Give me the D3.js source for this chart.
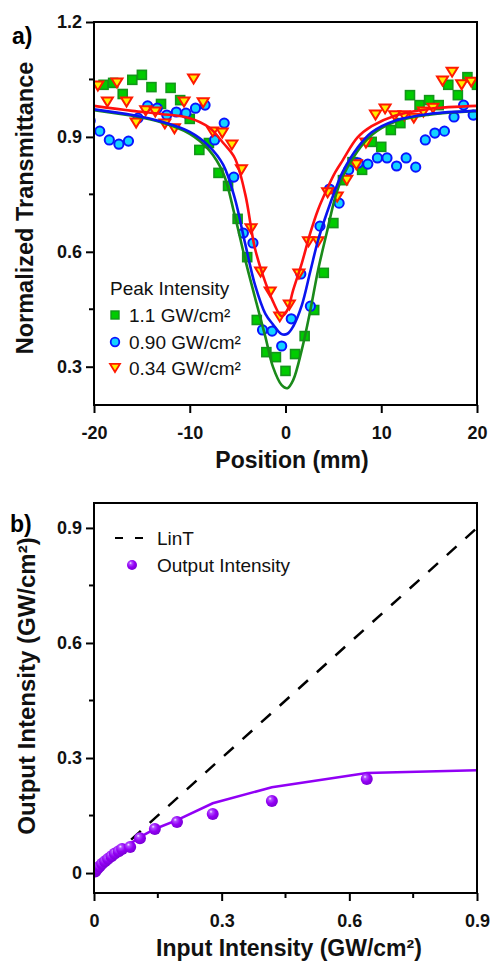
<!DOCTYPE html>
<html><head><meta charset="utf-8">
<script src="https://cdn.jsdelivr.net/npm/d3@7"></script>
<style>
html,body{margin:0;padding:0;background:#fff;}
svg{display:block;font-family:"Liberation Sans",Arial,Helvetica,sans-serif;}
</style></head>
<body>
<script>
// ---------- Panel a data ----------
const aXTicks = [-20, -10, 0, 10, 20];
const aXTickLabels = ["-20", "-10", "0", "10", "20"];
const aYTicks = [0.3, 0.6, 0.9, 1.2];
const aYTickLabels = ["0.3", "0.6", "0.9", "1.2"];
const aYMinor = [0.45, 0.75, 1.05];
const seriesNames = ["1.1 GW/cm²", "0.90 GW/cm²", "0.34 GW/cm²"];

const greenX = [-19,-18,-17,-16,-15,-14,-13,-12,-11,-10,-9,-8,-7,-6,-5,-4,-3,-2,-1,0,1,2,3,4,5,6,7,8,9,10,11,12,13,14,15,16,17,18,19,20];
const greenY = [1.036,1.041,1.012,1.049,1.062,1.030,0.986,1.028,0.996,0.947,0.866,0.884,0.806,0.772,0.686,0.586,0.422,0.338,0.325,0.289,0.333,0.380,0.448,0.545,0.675,0.787,0.834,0.814,0.887,0.874,0.918,0.936,1.009,0.983,0.996,0.983,1.036,1.009,1.056,1.036];

const blueX = [-20.4,-19.4,-18.4,-17.4,-16.4,-15.4,-14.4,-13.4,-12.4,-11.4,-10.4,-9.4,-8.4,-7.4,-6.4,-5.4,-4.4,-3.4,-2.4,-1.4,-0.4,0.6,1.6,2.6,3.6,4.6,5.6,6.6,7.6,8.6,9.6,10.6,11.6,12.6,13.6,14.6,15.6,16.6,17.6,18.6,19.6];
const blueY = [0.942,0.915,0.892,0.881,0.889,0.949,0.981,0.975,0.957,0.965,0.962,0.975,0.983,0.892,0.936,0.795,0.649,0.623,0.396,0.393,0.354,0.425,0.542,0.458,0.667,0.764,0.727,0.814,0.832,0.829,0.845,0.845,0.824,0.845,0.821,0.892,0.910,0.915,0.952,0.983,0.957];

const redX = [-19.6,-18.6,-17.6,-16.6,-15.6,-14.6,-13.6,-12.6,-11.6,-10.6,-9.6,-8.6,-7.6,-6.6,-5.6,-4.6,-3.6,-2.6,-1.6,-0.6,0.4,1.4,2.4,3.4,4.4,5.4,6.4,7.4,8.4,9.4,10.4,11.4,12.4,13.4,14.4,15.4,16.4,17.4,18.4,19.4];
const redY = [1.033,0.991,1.041,0.991,0.936,0.968,0.965,0.934,0.921,0.991,1.051,0.989,0.913,0.910,0.879,0.814,0.660,0.547,0.495,0.430,0.461,0.542,0.626,0.626,0.754,0.743,0.787,0.827,0.884,0.957,0.973,0.955,0.955,0.949,0.965,0.975,1.046,1.069,1.036,1.043];

// fit curves
const fitX      = [-20,-16,-13,-10,-8,-6.5,-5.3,-4.2,-3.2,-2.1,-1.3,-0.4,0.2,0.8,1.7,2.6,3.4,4.3,5.2,6,7.5,9,11.5,15,20];
const fitGreenY = [0.970,0.955,0.938,0.908,0.866,0.805,0.695,0.579,0.482,0.378,0.299,0.252,0.244,0.265,0.344,0.448,0.552,0.649,0.743,0.798,0.862,0.905,0.940,0.958,0.968];
const fitBlueY  = [0.972,0.957,0.940,0.913,0.876,0.827,0.740,0.620,0.515,0.438,0.410,0.385,0.386,0.405,0.460,0.550,0.630,0.700,0.762,0.810,0.871,0.912,0.943,0.960,0.968];
const fitRedY   = [0.981,0.968,0.960,0.949,0.925,0.884,0.845,0.750,0.610,0.520,0.470,0.432,0.448,0.500,0.570,0.650,0.710,0.762,0.808,0.840,0.898,0.928,0.956,0.973,0.981];

// ---------- Panel b data ----------
const bTicks = [0, 0.3, 0.6, 0.9];
const bTickLabels = ["0", "0.3", "0.6", "0.9"];
const bMinor = [0.15, 0.45, 0.75];
const inputI  = [0.003,0.008,0.013,0.019,0.026,0.033,0.041,0.049,0.058,0.066,0.085,0.108,0.143,0.195,0.279,0.418,0.641];
const outputI = [0.004,0.011,0.017,0.024,0.031,0.037,0.044,0.051,0.057,0.063,0.068,0.091,0.115,0.133,0.154,0.188,0.245];
const modelX = [0,0.019,0.038,0.066,0.108,0.143,0.195,0.279,0.418,0.641,0.9];
const modelY = [0.005,0.027,0.045,0.062,0.094,0.115,0.138,0.182,0.224,0.261,0.268];
const linTX = [0, 0.9];
const linTY = [0, 0.9];

// ---------- drawing ----------
const svg = d3.select("body").append("svg").attr("width", 491).attr("height", 962);
const defs = svg.append("defs");
const grad = defs.append("radialGradient").attr("id","ball").attr("cx","0.4").attr("cy","0.38").attr("r","0.62").attr("fx","0.35").attr("fy","0.3");
grad.append("stop").attr("offset","0%").attr("stop-color","#f8eeff");
grad.append("stop").attr("offset","22%").attr("stop-color","#b04cff");
grad.append("stop").attr("offset","60%").attr("stop-color","#9400f5");
grad.append("stop").attr("offset","100%").attr("stop-color","#7a00d6");

const bold = "bold";
const tickFont = 18;

function drawAxes(g, x, y, xt, xtl, yt, ytl, yMinor, xMinor, box){
  g.append("rect").attr("x", box.l).attr("y", box.t).attr("width", box.r - box.l).attr("height", box.b - box.t)
    .attr("fill","none").attr("stroke","#000").attr("stroke-width",2);
  const xa = g.append("g").attr("transform",`translate(0,${box.b})`)
    .call(d3.axisBottom(x).tickValues(xt).tickFormat((d,i)=>xtl[i]).tickSize(8).tickPadding(13).tickSizeOuter(0));
  const ya = g.append("g").attr("transform",`translate(${box.l},0)`)
    .call(d3.axisLeft(y).tickValues(yt).tickFormat((d,i)=>ytl[i]).tickSize(8).tickPadding(4).tickSizeOuter(0));
  [xa, ya].forEach(a=>{
    a.select(".domain").remove();
    a.selectAll("line").attr("stroke","#000").attr("stroke-width",2);
    a.selectAll("text").attr("font-size",tickFont).attr("font-weight",bold).attr("fill","#111")
      .attr("font-family","'Liberation Sans',Arial,sans-serif");
  });
  if (yMinor) ya.selectAll(".minor").data(yMinor).enter().append("line")
      .attr("x1",0).attr("x2",-5).attr("y1",d=>y(d)).attr("y2",d=>y(d)).attr("stroke","#000").attr("stroke-width",2);
  if (xMinor) xa.selectAll(".minor").data(xMinor).enter().append("line")
      .attr("y1",0).attr("y2",5).attr("x1",d=>x(d)).attr("x2",d=>x(d)).attr("stroke","#000").attr("stroke-width",2);
}

// ===== Panel a =====
const boxA = {l:94, r:477, t:22, b:405};
const xA = d3.scaleLinear().domain([-20,20]).range([boxA.l, boxA.r]);
const yA = d3.scaleLinear().domain([0.2,1.2]).range([boxA.b, boxA.t]);
const gA = svg.append("g");
defs.append("clipPath").attr("id","clipA").append("rect")
  .attr("x",boxA.l).attr("y",boxA.t).attr("width",boxA.r-boxA.l).attr("height",boxA.b-boxA.t);
const plotA = gA.append("g").attr("clip-path","url(#clipA)");

const sq = 9, cr = 4.6, tw = 11, th = 9;
const triPath = `M${-tw/2},${-th/2}L${tw/2},${-th/2}L0,${th/2}Z`;

plotA.selectAll(".sq").data(greenX.map((v,i)=>[v,greenY[i]])).enter().append("rect")
  .attr("x",d=>xA(d[0])-sq/2).attr("y",d=>yA(d[1])-sq/2).attr("width",sq).attr("height",sq)
  .attr("fill","#00cc00").attr("stroke","#13961a").attr("stroke-width",1.6);
plotA.selectAll(".ci").data(blueX.map((v,i)=>[v,blueY[i]])).enter().append("circle")
  .attr("cx",d=>xA(d[0])).attr("cy",d=>yA(d[1])).attr("r",cr)
  .attr("fill","#14d2ff").attr("stroke","#0a14ff").attr("stroke-width",2);
plotA.selectAll(".tr").data(redX.map((v,i)=>[v,redY[i]])).enter().append("path")
  .attr("d",triPath).attr("transform",d=>`translate(${xA(d[0])},${yA(d[1])})`)
  .attr("fill","#ffee00").attr("stroke","#ff1a00").attr("stroke-width",2).attr("stroke-linejoin","miter");

const lineA = d3.line().x(d=>xA(d[0])).y(d=>yA(d[1])).curve(d3.curveCatmullRom.alpha(0.5));
[[fitGreenY,"#1a8a1a"],[fitBlueY,"#0a14f0"],[fitRedY,"#ff1010"]].forEach(([ys,c])=>{
  plotA.append("path").attr("d", lineA(fitX.map((v,i)=>[v,ys[i]])))
    .attr("fill","none").attr("stroke",c).attr("stroke-width",2.6);
});
drawAxes(gA, xA, yA, aXTicks, aXTickLabels, aYTicks, aYTickLabels, aYMinor, null, boxA);

// legend a
const legA = gA.append("g").attr("font-size",19).attr("fill","#111");
legA.append("text").attr("x",110).attr("y",288).attr("dy","0.35em").text("Peak Intensity");
const legY = [315, 342, 368];
legA.append("rect").attr("x",115-4).attr("y",legY[0]-4).attr("width",8).attr("height",8)
  .attr("fill","#00cc00").attr("stroke","#13961a").attr("stroke-width",1.4);
legA.append("circle").attr("cx",115).attr("cy",legY[1]).attr("r",4.3)
  .attr("fill","#14d2ff").attr("stroke","#0a14ff").attr("stroke-width",1.8);
legA.append("path").attr("d",triPath).attr("transform",`translate(115,${legY[2]}) scale(0.9)`)
  .attr("fill","#ffee00").attr("stroke","#ff1a00").attr("stroke-width",2);
seriesNames.forEach((s,i)=>{
  legA.append("text").attr("x",129).attr("y",legY[i]).attr("dy","0.35em").text(s);
});

// titles a
svg.append("text").attr("x",12).attr("y",44).attr("font-size",23).attr("font-weight",bold).text("a)");
svg.append("text").attr("transform","translate(25,208) rotate(-90)").attr("text-anchor","middle").attr("dy","0.35em")
  .attr("font-size",23.5).attr("font-weight",bold).attr("fill","#111").text("Normalized Transmittance");
svg.append("text").attr("x",292).attr("y",460).attr("text-anchor","middle").attr("dy","0.35em")
  .attr("font-size",23).attr("font-weight",bold).attr("fill","#111").text("Position (mm)");

// ===== Panel b =====
const boxB = {l:94, r:477, t:503, b:893};
const xB = d3.scaleLinear().domain([0,0.9]).range([boxB.l, boxB.r]);
const yB = d3.scaleLinear().domain([-0.052,0.965]).range([boxB.b, boxB.t]);
const gB = svg.append("g");
defs.append("clipPath").attr("id","clipB").append("rect")
  .attr("x",boxB.l).attr("y",boxB.t).attr("width",boxB.r-boxB.l).attr("height",boxB.b-boxB.t);
const plotB = gB.append("g").attr("clip-path","url(#clipB)");
const lineB = d3.line().x(d=>xB(d[0])).y(d=>yB(d[1]));
plotB.append("path").attr("d", lineB(linTX.map((v,i)=>[v,linTY[i]])))
  .attr("fill","none").attr("stroke","#000").attr("stroke-width",2.5).attr("stroke-dasharray","13,12");
plotB.append("path").attr("d", lineB(modelX.map((v,i)=>[v,modelY[i]])))
  .attr("fill","none").attr("stroke","#9100f5").attr("stroke-width",2.6);
plotB.selectAll(".ball").data(inputI.map((v,i)=>[v,outputI[i]])).enter().append("circle")
  .attr("cx",d=>xB(d[0])).attr("cy",d=>yB(d[1])).attr("r",6).attr("fill","url(#ball)");
drawAxes(gB, xB, yB, bTicks, bTickLabels, bTicks, bTickLabels, bMinor, bMinor, boxB);

// legend b
const legB = gB.append("g").attr("font-size",19).attr("fill","#111");
legB.append("line").attr("x1",115).attr("x2",143).attr("y1",538).attr("y2",538)
  .attr("stroke","#000").attr("stroke-width",2).attr("stroke-dasharray","8,12");
legB.append("text").attr("x",157).attr("y",538).attr("dy","0.35em").text("LinT");
legB.append("circle").attr("cx",132).attr("cy",565).attr("r",5).attr("fill","url(#ball)");
legB.append("text").attr("x",157).attr("y",565).attr("dy","0.35em").text("Output Intensity");

svg.append("text").attr("x",10).attr("y",532).attr("font-size",23).attr("font-weight",bold).text("b)");
svg.append("text").attr("transform","translate(27,686) rotate(-90)").attr("text-anchor","middle").attr("dy","0.35em")
  .attr("font-size",24).attr("font-weight",bold).attr("fill","#111").text("Output Intensity (GW/cm²)");
svg.append("text").attr("x",289).attr("y",948).attr("text-anchor","middle").attr("dy","0.35em")
  .attr("font-size",23).attr("font-weight",bold).attr("fill","#111").text("Input Intensity (GW/cm²)");
</script>
</body></html>
